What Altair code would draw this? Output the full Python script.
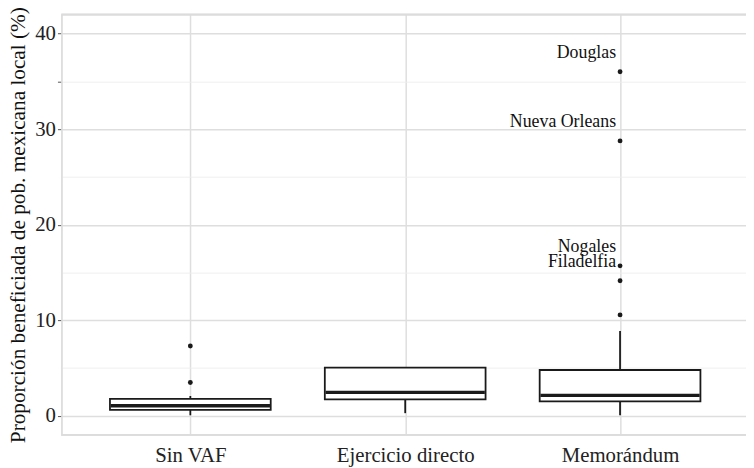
import altair as alt
import pandas as pd

# ---- data ----
categories = ["Sin VAF", "Ejercicio directo", "Memorándum"]
whisker_low = [0.05, 0.27, 0.06]
q1 = [0.62, 1.72, 1.51]
median = [1.05, 2.45, 2.13]
q3 = [1.76, 5.03, 4.79]
whisker_high = [2.07, 5.03, 8.86]

outlier_cat = ["Sin VAF", "Sin VAF", "Memorándum", "Memorándum", "Memorándum", "Memorándum", "Memorándum"]
outlier_val = [7.3, 3.48, 10.55, 14.13, 15.69, 28.76, 36.0]

label_cat = ["Memorándum", "Memorándum", "Memorándum", "Memorándum"]
label_val = [36.0, 28.76, 15.69, 14.13]
label_txt = ["Douglas", "Nueva Orleans", "Nogales", "Filadelfia"]

y_ticks = [0, 5, 10, 15, 20, 25, 30, 35, 40]
y_title = "Proporción beneficiada de pob. mexicana local (%)"

boxes = pd.DataFrame({"cat": categories, "lo": whisker_low, "q1": q1,
                      "med": median, "q3": q3, "hi": whisker_high})
outs = pd.DataFrame({"cat": outlier_cat, "val": outlier_val})
labs = pd.DataFrame({"cat": label_cat, "val": label_val, "txt": label_txt})

FONT = "Liberation Serif"
W, H = 692, 425
DARK = "#1a1a1a"

# the panel continues a few pixels past the right edge of the window (as in the reference)
xscale = alt.Scale(type="point", domain=categories, range=[0, 695], padding=0.6)
yscale = alt.Scale(domain=[-2, 42], nice=False, zero=False)

x_axis = alt.Axis(labelAngle=0, ticks=False, domain=False,
                  grid=True, gridColor="#dedede", gridWidth=1.5,
                  labelFont=FONT, labelFontSize=21, labelColor="#222222",
                  labelPadding=10)

major_test = "datum.value % 10 == 0"
y_axis = alt.Axis(values=y_ticks,
                  labelExpr="datum.value % 10 == 0 ? datum.label : ''",
                  grid=True,
                  gridColor={"condition": {"test": major_test, "value": "#dedede"}, "value": "#ededed"},
                  gridWidth={"condition": {"test": major_test, "value": 1.5}, "value": 0.9},
                  domain=True, domainColor="#dcdcdc", domainWidth=1.6,
                  ticks=True, tickColor="#555555", tickSize=4, tickWidth=1,
                  tickOpacity={"condition": {"test": "datum.value % 10 == 0 || datum.value == 35",
                                             "value": 1}, "value": 0},
                  labelFont=FONT, labelFontSize=21, labelColor="#222222",
                  labelPadding=2, titleFont=FONT, titleFontSize=21.5,
                  titleFontWeight="normal", titleColor="#111111", titlePadding=5)

def xe():
    return alt.X("cat:N", scale=xscale, sort=categories, title=None, axis=x_axis)

def ye(field):
    return alt.Y(field, scale=yscale, title=y_title, axis=y_axis)

base = alt.Chart(boxes)

whiskers = base.mark_rule(color=DARK, strokeWidth=1.8).encode(
    x=xe(), y=ye("lo:Q"), y2="hi:Q")

box = base.mark_bar(size=162.5, fill="white", stroke=DARK, strokeWidth=1.8, opacity=1).encode(
    x=xe(), y=ye("q1:Q"), y2="q3:Q")

med = base.mark_tick(size=161, thickness=3.4, color=DARK, opacity=1, orient="horizontal").encode(
    x=xe(), y=ye("med:Q"))

pts = alt.Chart(outs).mark_circle(size=24, color=DARK, opacity=1).encode(
    x=xe(), y=ye("val:Q"))

txt = alt.Chart(labs).mark_text(font=FONT, fontSize=18, color="#111111", align="right",
                                baseline="middle", dx=-4, dy=-19).encode(
    x=xe(), y=ye("val:Q"), text="txt:N")

# panel frame (top and bottom edges; left edge is the y-axis domain line)
frame_top = alt.Chart(boxes).mark_rule(color="#dcdcdc", strokeWidth=1.6).encode(
    x=alt.value(0), x2=alt.value(W), y=alt.value(0))
frame_bottom = alt.Chart(boxes).mark_rule(color="#dcdcdc", strokeWidth=1.6).encode(
    x=alt.value(0), x2=alt.value(W), y=alt.value(H))

chart = alt.layer(whiskers, box, med, pts, txt, frame_top, frame_bottom).properties(
    width=W, height=H,
    autosize=alt.AutoSizeParams(type="none"),
    padding={"left": 54, "top": 4, "right": 0, "bottom": 32},
).configure_view(stroke=None).configure(background="white", font=FONT)

chart.save("out.html", embed_options={"renderer": "svg", "actions": False})
